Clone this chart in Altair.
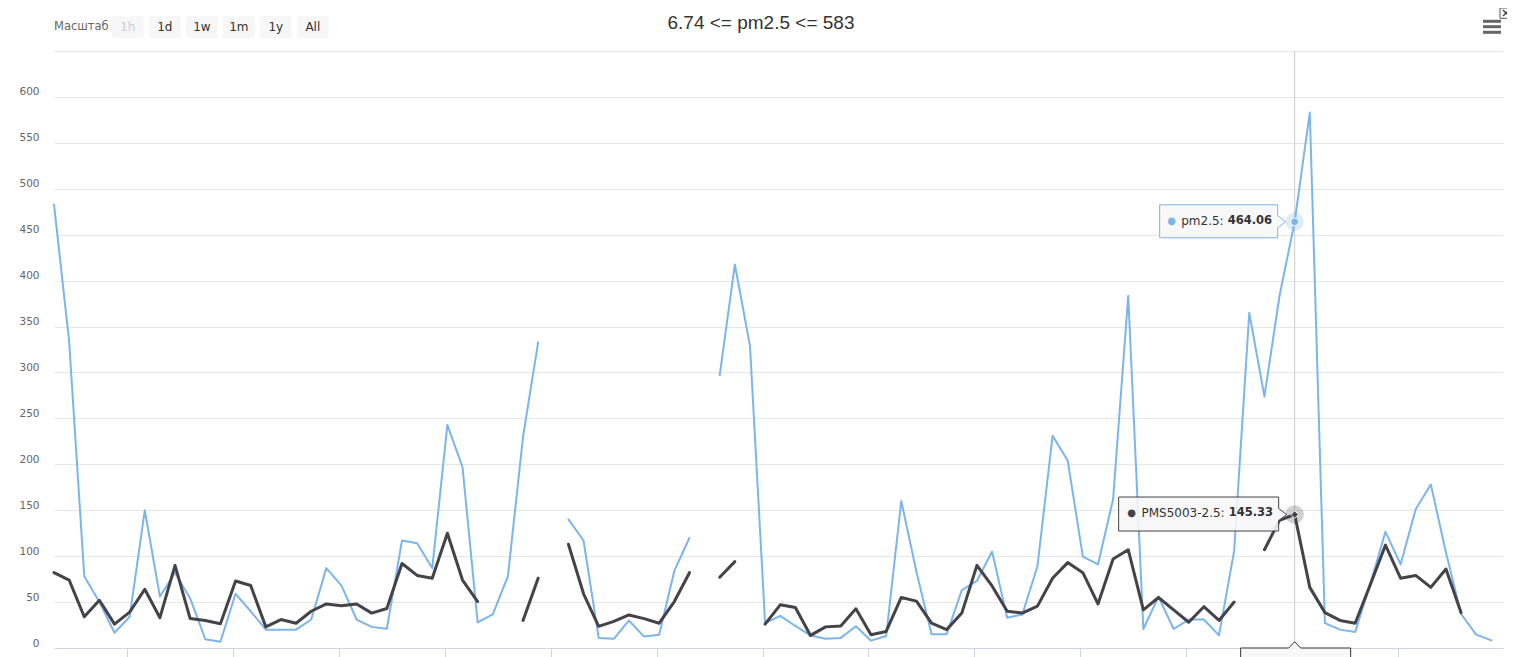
import altair as alt
import pandas as pd

# ---------------- data ----------------
x_index = list(range(96))
pm25 = [483, 334, 78, 50, 16.6, 34, 150, 56, 82, 54,
        9.5, 6.74, 59, 40, 20, 20, 20, 31, 87, 68,
        31, 23, 21, 117, 114, 87, 243, 197, 28, 36.5,
        78, 230, 333, None, 140, 117, 11, 10, 30, 12.4,
        14.5, 84, 120, None, 297, 417.5, 329, 27, 35, 24,
        13.7, 10, 11, 23.6, 8, 13, 160, 83, 15, 15,
        63, 73, 105, 33, 36.5, 89, 231, 204, 99.5, 91,
        162, 383.5, 20.7, 56, 20.7, 31, 31, 13.7, 105.7, 365,
        273.7, 383.5, 464.06, 583, 27, 20, 17.4, 70, 126.5, 91,
        151, 178, 104, 37, 14.5, 8.3]
pms5003 = [82, 74, 34, 52, 26, 39, 64, 33, 90, 32,
           30, 26.5, 73, 68, 23, 31, 27, 40, 48, 46,
           48, 38, 43, 92, 79, 76, 125, 74, 50.6, None,
           None, 30, 76, None, 113, 59, 23.6, 29, 36, 32,
           27, 50.6, 82, None, 77, 94, None, 26, 47, 44,
           13.7, 23, 24, 42.7, 14.5, 18, 55, 51, 27, 20,
           38, 90, 67.6, 40, 38, 45.6, 76, 93, 82, 48,
           97, 107, 41.5, 55, 41.5, 28, 45, 30, 50, None,
           107, 139, 145.33, 66, 38.5, 30, 27, 69, 112, 76,
           79, 66, 86, 38.5, None, None]
series_names = ["pm2.5", "PMS5003-2.5"]
series_colors = ["#7cb5ec", "#434348"]
y_ticks = [0, 50, 100, 150, 200, 250, 300, 350, 400, 450, 500, 550, 600, 650]
x_tick_positions = [4.83, 11.83, 18.83, 25.83, 32.83, 39.83, 46.83,
                    53.83, 60.83, 67.83, 74.83, 81.83, 88.83]
hover_index = 82
title_text = "6.74 <= pm2.5 <= 583"
zoom_label = "Масштаб"
buttons = ["1h", "1d", "1w", "1m", "1y", "All"]

# long table, lines broken at null values
rows = []
for name, vals in zip(series_names, (pm25, pms5003)):
    seg = 0
    for i, v in zip(x_index, vals):
        if v is None:
            seg += 1
            continue
        rows.append({"series": name, "x": i, "value": v, "segment": f"{name}-{seg}"})
df = pd.DataFrame(rows)

hover = pd.DataFrame({
    "series": series_names,
    "x": [hover_index, hover_index],
    "value": [pm25[hover_index], pms5003[hover_index]],
    "label": [n + ":" for n in series_names],
    "val": [f"{pm25[hover_index]:.2f}", f"{pms5003[hover_index]:.2f}"],
})
cross = pd.DataFrame({"x": [hover_index], "value": [0], "top": [650]})
one = pd.DataFrame({"k": [0]})

# ---------------- scales / axes ----------------
xs = alt.Scale(domain=[0, 95.77], nice=False, zero=False)
ys = alt.Scale(domain=[0, 650], nice=False, zero=False)
x_axis = alt.Axis(values=x_tick_positions, labels=False, grid=False,
                  domainColor="#ccd6eb", domainWidth=1, tickColor="#ccd6eb",
                  tickSize=10, tickWidth=1)
y_axis = alt.Axis(values=y_ticks, labelExpr="datum.value > 600 ? '' : datum.label",
                  grid=True, gridColor="#e6e6e6", gridWidth=1, domain=False,
                  ticks=False, labelColor="#666666", labelFont="DejaVu Sans",
                  labelFontSize=10.5, labelPadding=15, labelOffset=-5,
                  labelFlush=False, labelOverlap=False, labelBaseline="middle")
X = alt.X("x:Q", scale=xs, axis=x_axis, title=None)
Y = alt.Y("value:Q", scale=ys, axis=y_axis, title=None)

layers = []

# crosshair
layers.append(alt.Chart(cross).mark_rule(color="#cccccc", strokeWidth=1).encode(
    x=X, y=Y, y2="top:Q"))

# series lines
widths = [2, 3]
for name, col, w in zip(series_names, series_colors, widths):
    layers.append(
        alt.Chart(df).transform_filter(alt.datum.series == name)
        .mark_line(color=col, strokeWidth=w, strokeJoin="round", strokeCap="round")
        .encode(x=X, y=Y, detail="segment:N"))

# hover halos and markers
for name, col, shape in zip(series_names, series_colors, ["circle", "diamond"]):
    h = alt.Chart(hover).transform_filter(alt.datum.series == name)
    layers.append(h.mark_point(shape="circle", size=340, filled=True, color=col,
                               opacity=0.25).encode(x=X, y=Y))
    layers.append(h.mark_point(shape=shape, size=64 if shape == "circle" else 56,
                               filled=True, fill=col, stroke="#ffffff",
                               strokeWidth=1, opacity=1).encode(x=X, y=Y))

# split tooltip boxes (custom symbol paths anchored on the hovered point)
R = 180.0


def box_path(pts):
    return "M" + " L".join(f"{px / R:.4f},{py / R:.4f}" for px, py in pts) + " Z"


tip_boxes = {
    "pm2.5": [(-135, -17), (-17, -17), (-17, -6), (-9, 0), (-17, 6), (-17, 16), (-135, 16)],
    "PMS5003-2.5": [(-176, -17.5), (-16, -17.5), (-16, -6), (-8, 0), (-16, 6), (-16, 16.5), (-176, 16.5)],
}
tip_text = {  # bullet dx, label right dx, value left dx, dy
    "pm2.5": (-123, -71, -67, -1),
    "PMS5003-2.5": (-163, -70, -66, -1.5),
}
for name, col in zip(series_names, series_colors):
    h = alt.Chart(hover).transform_filter(alt.datum.series == name)
    layers.append(h.mark_point(shape=box_path(tip_boxes[name]), size=(2 * R) ** 2,
                               filled=True, fill="#f7f7f7", fillOpacity=0.88,
                               stroke=col, strokeWidth=1, opacity=1).encode(x=X, y=Y))
    bdx, ldx, vdx, dy = tip_text[name]
    layers.append(h.mark_text(text="●", color=col, fontSize=10, dx=bdx, dy=dy,
                              align="center", baseline="middle",
                              font="DejaVu Sans").encode(x=X, y=Y))
    layers.append(h.mark_text(color="#333333", fontSize=12, dx=ldx, dy=dy,
                              align="right", baseline="middle",
                              font="DejaVu Sans").encode(x=X, y=Y, text="label:N"))
    layers.append(h.mark_text(color="#333333", fontSize=11.5, fontWeight="bold",
                              dx=vdx, dy=dy, align="left", baseline="middle",
                              font="DejaVu Sans").encode(x=X, y=Y, text="val:N"))

# x-axis header label of the split tooltip
header_pts = [(-54, 0), (-6, 0), (0, -6.3), (6, 0), (56, 0), (56, 30), (-54, 30)]
layers.append(alt.Chart(cross).mark_point(shape=box_path(header_pts), size=(2 * R) ** 2,
                                          filled=True, fill="#f7f7f7", fillOpacity=0.9,
                                          stroke="#333333", strokeWidth=1, opacity=1)
              .encode(x=X, y=Y))

# ---------------- chrome (title, range selector, menu) ----------------
def chrome_text(txt, x, y, **kw):
    return alt.Chart(one).mark_text(text=txt, baseline="middle", **kw).encode(
        x=alt.value(x), y=alt.value(y))


def chrome_rect(x0, x1, y0, y1, **kw):
    return alt.Chart(one).mark_rect(**kw).encode(
        x=alt.value(x0), x2=alt.value(x1), y=alt.value(y0), y2=alt.value(y1))


def chrome_rule(x0, x1, y0, y1, **kw):
    return alt.Chart(one).mark_rule(**kw).encode(
        x=alt.value(x0), x2=alt.value(x1), y=alt.value(y0), y2=alt.value(y1))


layers.append(chrome_text(title_text, 707, -28.5, align="center", fontSize=19,
                          color="#333333", font="Liberation Sans"))
layers.append(chrome_text(zoom_label, 0, -24.5, align="left", fontSize=11.5,
                          color="#666666", font="DejaVu Sans"))
for k, b in enumerate(buttons):
    bx = 58 + 37 * k
    layers.append(chrome_rect(bx, bx + 31.7, -35, -13.3, fill="#f7f7f7",
                              cornerRadius=2))
    layers.append(chrome_text(b, bx + 15.85, -24.5, align="center", fontSize=12,
                              color="#cccccc" if k == 0 else "#333333",
                              font="DejaVu Sans"))

# hamburger menu
for yy in (-29.7, -24.3, -18.7):
    layers.append(chrome_rule(1429, 1447, yy, yy, color="#666666", strokeWidth=3))
# close box (partly beyond the page edge)
layers.append(chrome_rect(1446, 1458, -43, -32.7, fill="#ffffff", stroke="#555555",
                          strokeWidth=1))
layers.append(chrome_rule(1449, 1455, -41, -35, color="#444444", strokeWidth=1.5))
layers.append(chrome_rule(1455, 1449, -41, -35, color="#444444", strokeWidth=1.5))

chart = alt.layer(*layers).properties(
    width=1449, height=597,
    autosize=alt.AutoSizeParams(type="none"),
    padding={"left": 46, "top": 43, "right": 4, "bottom": 9},
    background="#ffffff",
).configure_view(stroke="transparent")

chart.save("out.html", embed_options={"renderer": "svg", "actions": False})
